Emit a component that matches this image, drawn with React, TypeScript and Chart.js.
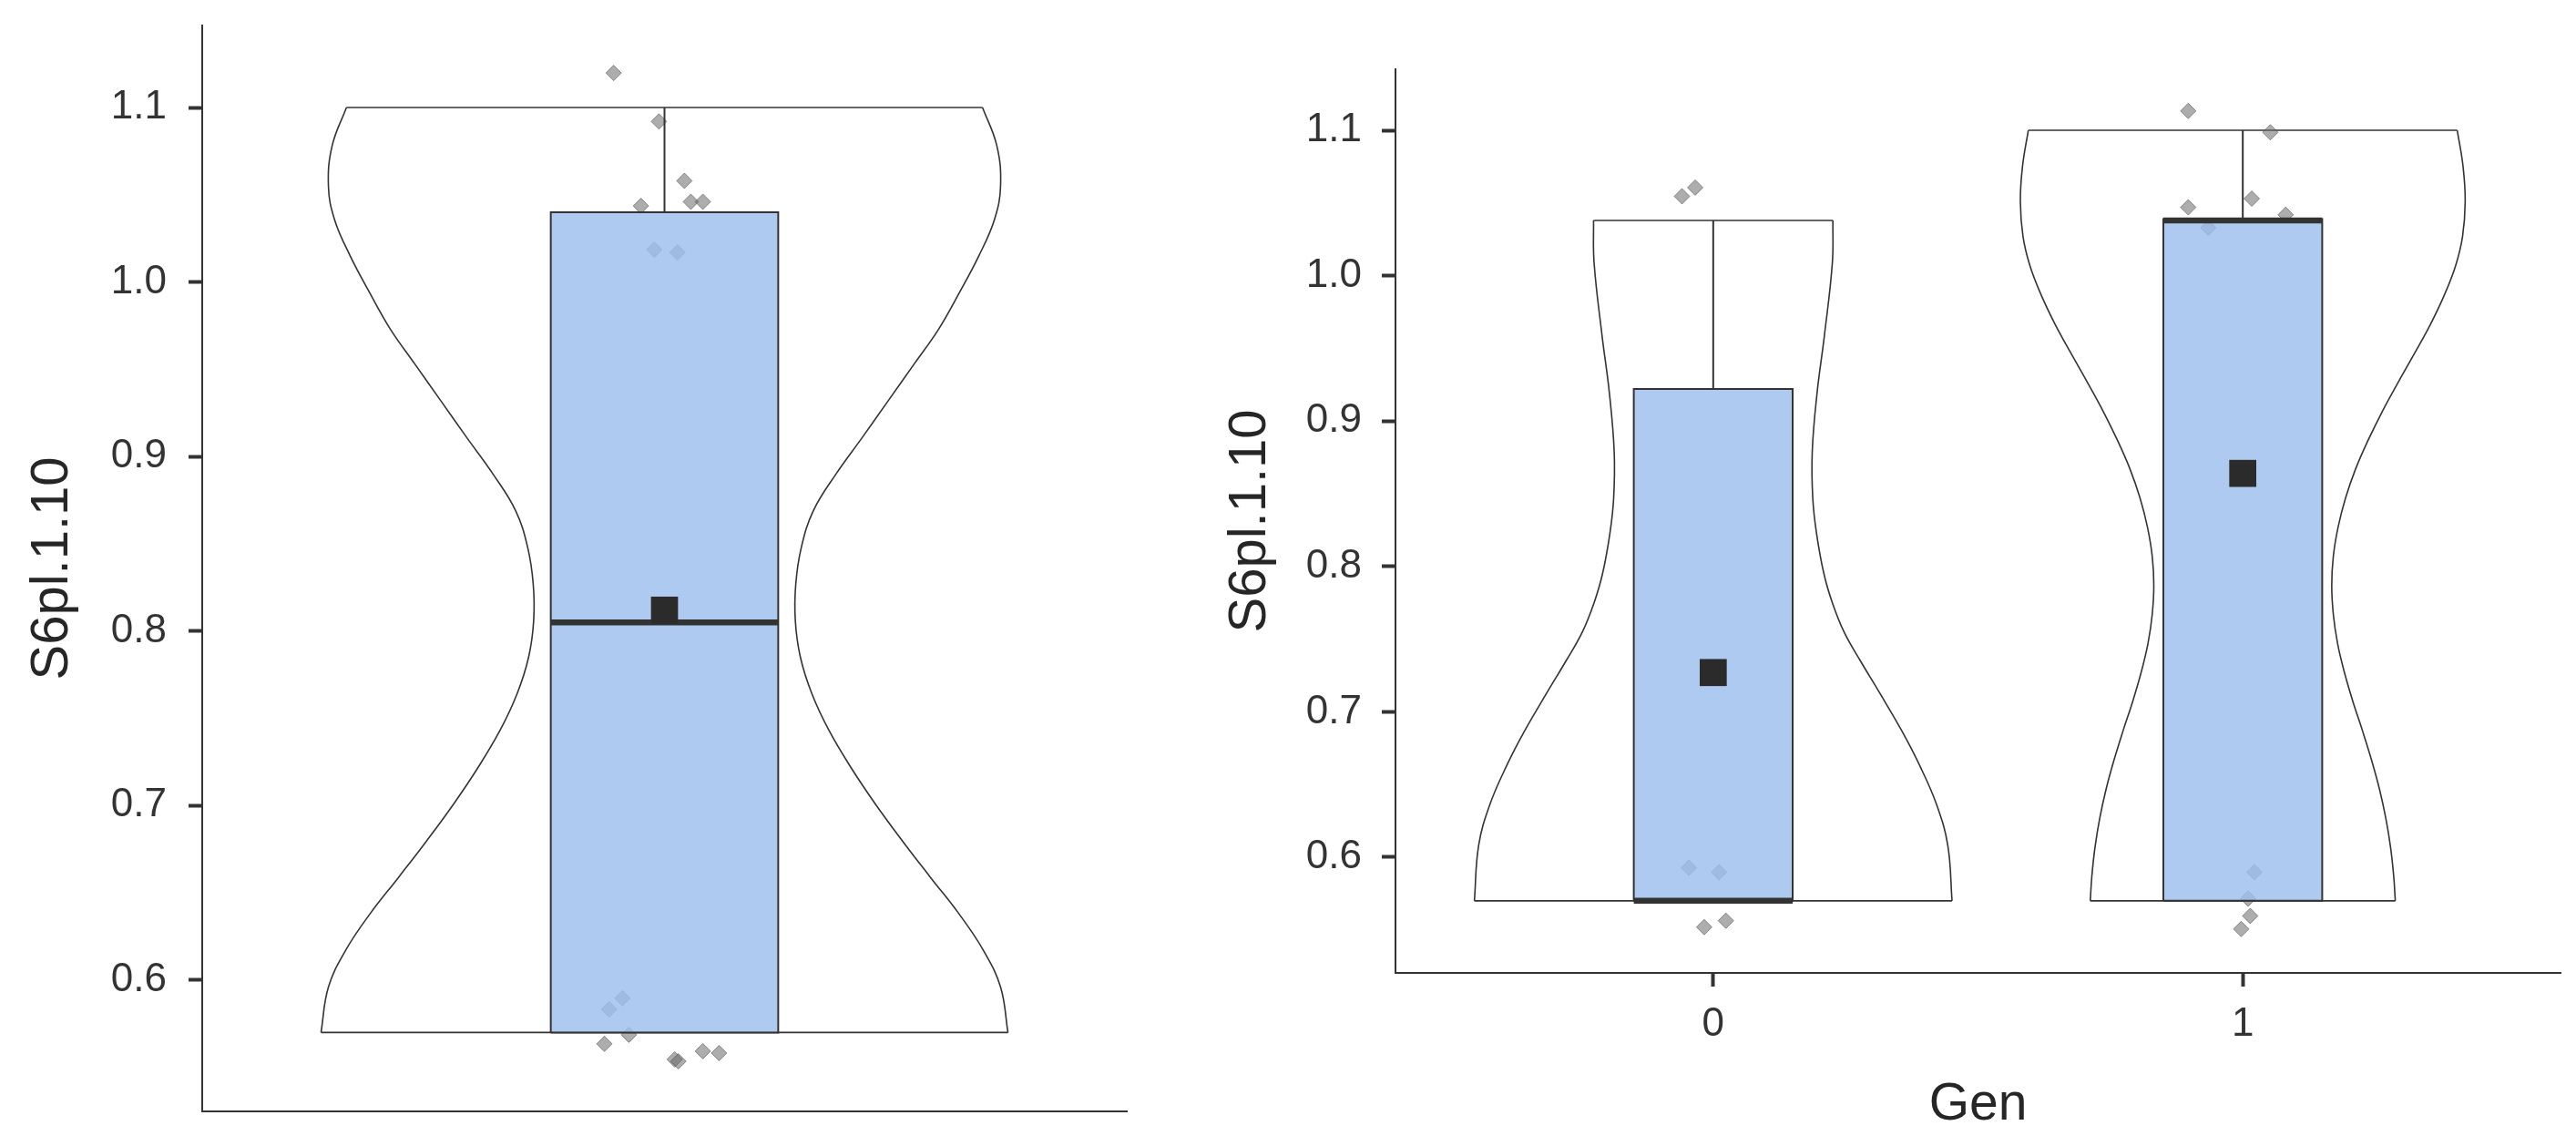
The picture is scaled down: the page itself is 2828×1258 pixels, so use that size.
import React, { useEffect, useRef } from 'react';
import { Chart, registerables } from 'chart.js';

Chart.register(...registerables);

// ---------------- Data ----------------
const Y_TICK_LABELS = ['0.6', '0.7', '0.8', '0.9', '1.0', '1.1'];
const Y_AXIS_TITLE = 'S6pl.1.10';
const X_AXIS_TITLE = 'Gen';
const GEN_CATEGORIES = ['0', '1'];

// Left panel: all observations
const ALL_VIOLIN_Y = [1.1, 1.078, 1.055, 1.036, 1.015, 0.994, 0.973, 0.953, 0.932, 0.911, 0.89, 0.869, 0.848, 0.827, 0.806, 0.785, 0.764, 0.743, 0.722, 0.701, 0.68, 0.659, 0.638, 0.617, 0.596, 0.57];
const ALL_VIOLIN_HALF = [0.688, 0.719, 0.727, 0.714, 0.68, 0.638, 0.593, 0.54, 0.484, 0.428, 0.371, 0.322, 0.296, 0.284, 0.283, 0.294, 0.319, 0.356, 0.403, 0.456, 0.514, 0.575, 0.637, 0.69, 0.727, 0.743];
// [min, q1, median, q3, max]
const ALL_BOX = [0.57, 0.57, 0.805, 1.04, 1.1];
const ALL_MEAN = 0.812;
const ALL_POINT_Y = [1.1198, 1.092, 1.058, 1.046, 1.046, 1.0436, 1.0186, 1.017, 0.5896, 0.5833, 0.5687, 0.5635, 0.5546, 0.5535, 0.5593, 0.5582];
const ALL_POINT_JITTER = [-0.11, -0.012, 0.043, 0.057, 0.083, -0.051, -0.022, 0.028, -0.091, -0.12, -0.077, -0.13, 0.022, 0.03, 0.083, 0.118];

// Right panel: Gen = 0
const G0_VIOLIN_Y = [1.038, 1.009, 0.959, 0.919, 0.879, 0.847, 0.823, 0.795, 0.775, 0.755, 0.735, 0.715, 0.687, 0.663, 0.636, 0.608, 0.57];
const G0_VIOLIN_HALF = [0.226, 0.225, 0.21, 0.196, 0.187, 0.188, 0.195, 0.209, 0.225, 0.247, 0.278, 0.311, 0.356, 0.39, 0.422, 0.443, 0.451];
const G0_BOX = [0.57, 0.57, 0.57, 0.922, 1.038];
const G0_MEAN = 0.727;
const G0_POINT_Y = [1.0546, 1.0606, 0.5927, 0.5897, 0.5519, 0.5563];
const G0_POINT_JITTER = [-0.059, -0.034, -0.046, 0.011, -0.017, 0.024];

// Right panel: Gen = 1
const G1_VIOLIN_Y = [1.1, 1.075, 1.051, 1.027, 1.007, 0.987, 0.967, 0.947, 0.927, 0.907, 0.887, 0.867, 0.847, 0.827, 0.807, 0.787, 0.767, 0.747, 0.727, 0.707, 0.687, 0.667, 0.647, 0.627, 0.607, 0.587, 0.57];
const G1_VIOLIN_HALF = [0.405, 0.416, 0.42, 0.415, 0.402, 0.381, 0.355, 0.325, 0.294, 0.264, 0.237, 0.213, 0.194, 0.18, 0.171, 0.168, 0.171, 0.179, 0.192, 0.208, 0.226, 0.243, 0.258, 0.27, 0.279, 0.285, 0.288];
const G1_BOX = [0.57, 0.57, 1.038, 1.039, 1.1];
const G1_MEAN = 0.864;
const G1_POINT_Y = [1.1133, 1.0986, 1.047, 1.053, 1.0419, 1.033, 0.5897, 0.5715, 0.5596, 0.5506];
const G1_POINT_JITTER = [-0.103, 0.052, -0.103, 0.017, 0.081, -0.065, 0.022, 0.01, 0.014, -0.003];

// ---------------- Styles ----------------
const FONT = "'Liberation Sans', Arial, Helvetica, sans-serif";
const INK = '#333333';
const TICK_TEXT = '#333333';
const TITLE_TEXT = '#262626';
const BOX_FILL = 'rgba(158, 190, 237, 0.82)';
const POINT_FILL = 'rgba(105, 105, 105, 0.55)';
const POINT_EDGE = 'rgba(70, 70, 70, 0.55)';
const LEFT_BOX_HALF = 0.246;
const RIGHT_BOX_HALF = 0.15;
const Y_TICK_VALUES = Y_TICK_LABELS.map(Number);

function line(data: any[], extra: any = {}) {
  return {
    type: 'line',
    data,
    showLine: true,
    borderColor: INK,
    borderWidth: 2,
    pointRadius: 0,
    pointHoverRadius: 0,
    tension: 0,
    fill: false,
    ...extra,
  };
}

function groupDatasets(
  center: number,
  vy: number[],
  vh: number[],
  box: number[],
  mean: number,
  py: number[],
  pj: number[],
  boxHalf: number
) {
  const n = vy.length;
  const [mn, q1, med, q3, mx] = box;
  const violinStyle = { borderWidth: 1.6, tension: 0.4, order: 50, borderJoinStyle: 'round' };
  return [
    line(vy.map((y, i) => ({ x: center + vh[i], y })), violinStyle),
    line(vy.map((y, i) => ({ x: center - vh[i], y })), violinStyle),
    line([{ x: center - vh[0], y: vy[0] }, { x: center + vh[0], y: vy[0] }], { ...violinStyle, tension: 0 }),
    line([{ x: center - vh[n - 1], y: vy[n - 1] }, { x: center + vh[n - 1], y: vy[n - 1] }], { ...violinStyle, tension: 0 }),
    {
      type: 'line',
      data: py.map((y, i) => ({ x: center + pj[i], y })),
      showLine: false,
      pointStyle: 'rectRot',
      pointRadius: 8.5,
      pointHoverRadius: 8.5,
      pointBackgroundColor: POINT_FILL,
      pointBorderColor: POINT_EDGE,
      pointBorderWidth: 1,
      order: 40,
    },
    line(
      [
        { x: center - boxHalf, y: q1 },
        { x: center + boxHalf, y: q1 },
        { x: center + boxHalf, y: q3 },
        { x: center - boxHalf, y: q3 },
        { x: center - boxHalf, y: q1 },
      ],
      { fill: 'shape', backgroundColor: BOX_FILL, borderWidth: 2, borderJoinStyle: 'miter', order: 30 }
    ),
    line([{ x: center, y: q3 }, { x: center, y: mx }], { borderWidth: 2, order: 20 }),
    line([{ x: center, y: mn }, { x: center, y: q1 }], { borderWidth: 2, order: 20 }),
    line([{ x: center - boxHalf, y: med }, { x: center + boxHalf, y: med }], {
      borderWidth: 6.5,
      borderCapStyle: 'butt',
      order: 10,
    }),
    {
      type: 'line',
      data: [{ x: center, y: mean }],
      showLine: false,
      pointStyle: 'rect',
      pointRadius: 21,
      pointHoverRadius: 21,
      pointBackgroundColor: '#2b2b2b',
      pointBorderWidth: 0,
      order: 0,
    },
  ];
}

function yAxis(min: number, max: number, width: number, labelPad: number, titlePadTop: number) {
  return {
    type: 'linear',
    position: 'left',
    min,
    max,
    afterBuildTicks: (s: any) => {
      s.ticks = Y_TICK_VALUES.map((v) => ({ value: v }));
    },
    afterFit: (s: any) => {
      s.width = width;
      s.paddingTop = 0;
      s.paddingBottom = 0;
    },
    ticks: {
      callback: (v: any) => {
        const i = Y_TICK_VALUES.findIndex((t) => Math.abs(t - Number(v)) < 1e-6);
        return i >= 0 ? Y_TICK_LABELS[i] : '';
      },
      font: { family: FONT, size: 44 },
      color: TICK_TEXT,
      padding: labelPad,
    },
    grid: {
      display: true,
      drawOnChartArea: false,
      drawTicks: true,
      tickLength: 15,
      tickWidth: 4,
      tickColor: INK,
    },
    border: { display: true, color: INK, width: 2 },
    title: {
      display: true,
      text: Y_AXIS_TITLE,
      font: { family: FONT, size: 58 },
      color: TITLE_TEXT,
      padding: { top: titlePadTop, bottom: 0 },
    },
  };
}

const baseOptions = (padding: any, scales: any) => ({
  responsive: false,
  maintainAspectRatio: false,
  animation: false,
  events: [],
  devicePixelRatio: 1,
  layout: { padding, autoPadding: false },
  plugins: { legend: { display: false }, tooltip: { enabled: false } },
  scales,
});

function leftConfig(): any {
  return {
    type: 'line',
    data: {
      datasets: groupDatasets(0, ALL_VIOLIN_Y, ALL_VIOLIN_HALF, ALL_BOX, ALL_MEAN, ALL_POINT_Y, ALL_POINT_JITTER, LEFT_BOX_HALF),
    },
    options: baseOptions(
      { left: 0, top: 28, right: 63, bottom: 0 },
      {
        x: {
          type: 'linear',
          min: -1,
          max: 1,
          afterFit: (s: any) => {
            s.height = 38;
            s.paddingLeft = 0;
            s.paddingRight = 0;
          },
          ticks: { display: false },
          grid: { display: true, drawOnChartArea: false, drawTicks: false },
          border: { display: true, color: INK, width: 2 },
        },
        y: yAxis(0.5248, 1.147, 222, 24, 23),
      }
    ),
  };
}

function rightConfig(): any {
  return {
    type: 'line',
    data: {
      datasets: [
        ...groupDatasets(0, G0_VIOLIN_Y, G0_VIOLIN_HALF, G0_BOX, G0_MEAN, G0_POINT_Y, G0_POINT_JITTER, RIGHT_BOX_HALF),
        ...groupDatasets(1, G1_VIOLIN_Y, G1_VIOLIN_HALF, G1_BOX, G1_MEAN, G1_POINT_Y, G1_POINT_JITTER, RIGHT_BOX_HALF),
      ],
    },
    options: baseOptions(
      { left: 0, top: 76, right: 17, bottom: 0 },
      {
        x: {
          type: 'linear',
          min: -0.6,
          max: 1.6,
          afterBuildTicks: (s: any) => {
            s.ticks = GEN_CATEGORIES.map((_, i) => ({ value: i }));
          },
          afterFit: (s: any) => {
            s.height = 190;
            s.paddingLeft = 0;
            s.paddingRight = 0;
          },
          ticks: {
            callback: (v: any) => GEN_CATEGORIES[Math.round(Number(v))] ?? '',
            font: { family: FONT, size: 44 },
            color: TICK_TEXT,
            padding: 15,
            maxRotation: 0,
          },
          grid: {
            display: true,
            drawOnChartArea: false,
            drawTicks: true,
            tickLength: 15,
            tickWidth: 4,
            tickColor: INK,
          },
          border: { display: true, color: INK, width: 2 },
          title: {
            display: true,
            text: X_AXIS_TITLE,
            font: { family: FONT, size: 57 },
            color: TITLE_TEXT,
            padding: { top: 0, bottom: 11 },
          },
        },
        y: yAxis(0.5204, 1.142, 232, 22, 38),
      }
    ),
  };
}

function Panel({ left, width, height, make }: { left: number; width: number; height: number; make: () => any }) {
  const ref = useRef<HTMLCanvasElement>(null);
  useEffect(() => {
    if (!ref.current) return;
    const chart = new Chart(ref.current, make());
    return () => chart.destroy();
  }, []);
  return (
    <canvas
      ref={ref}
      width={width}
      height={height}
      style={{ position: 'absolute', left, top: 0, width, height, display: 'block' }}
    />
  );
}

export default function App() {
  return (
    <div style={{ position: 'absolute', left: 0, top: 0, width: 2828, height: 1258, background: '#ffffff', overflow: 'hidden' }}>
      <Panel left={0} width={1300} height={1258} make={leftConfig} />
      <Panel left={1300} width={1528} height={1258} make={rightConfig} />
    </div>
  );
}
